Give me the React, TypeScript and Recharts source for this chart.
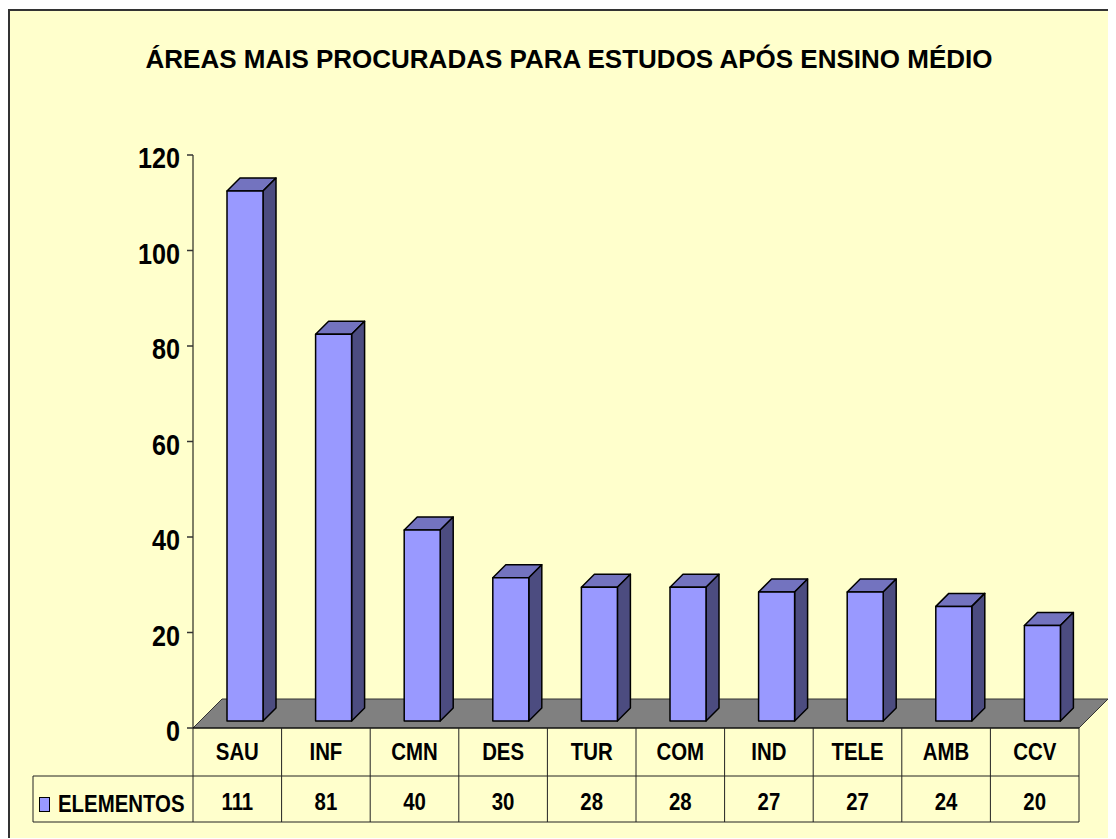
import React from "react";
import { BarChart, Bar, XAxis, YAxis } from "recharts";

const categories = ["SAU", "INF", "CMN", "DES", "TUR", "COM", "IND", "TELE", "AMB", "CCV"];
const elementos = [111, 81, 40, 30, 28, 28, 27, 27, 24, 20];
const yTicks = [0, 20, 40, 60, 80, 100, 120];

const FONT = "'Liberation Sans', Arial, sans-serif";
const W = 1108;
const H = 830;
// plot area (chart coords)
const PL = 185;
const PR = 1071;
const PT = 146;
const PB = 719;
const BW = (PR - PL) / categories.length;
const FLOOR = 29; // floor depth
const DEPTH = 13; // bar depth
const SHIFT_X = 8;
const SHIFT_Y = -7;

const data = categories.map((c, i) => ({ cat: c, value: elementos[i] }));

// narrow bold text (no narrow font installed, so squeeze it)
function NText({ x, y, size, sx = 0.85, anchor = "middle", children }: any) {
  return (
    <text
      transform={`translate(${x},${y}) scale(${sx},1)`}
      textAnchor={anchor}
      fontFamily={FONT}
      fontWeight="bold"
      fontSize={size}
      fill="#000"
    >
      {children}
    </text>
  );
}

function Bar3D(props: any) {
  const { x, y, width, height } = props;
  if (height == null || height <= 0) return null;
  const fx = x + SHIFT_X;
  const fy = y + SHIFT_Y;
  const fb = fy + height;
  const d = DEPTH;
  return (
    <g stroke="#000" strokeWidth={1.5} strokeLinejoin="round">
      <polygon
        points={`${fx},${fy} ${fx + d},${fy - d} ${fx + width + d},${fy - d} ${fx + width},${fy}`}
        fill="#7373BF"
      />
      <polygon
        points={`${fx + width},${fy} ${fx + width + d},${fy - d} ${fx + width + d},${fb - d} ${fx + width},${fb}`}
        fill="#4C4C80"
      />
      <rect x={fx} y={fy} width={width} height={height} fill="#9999FF" />
    </g>
  );
}

function CatTick(props: any) {
  const { x, y, payload, index } = props;
  const left = x - BW / 2;
  const last = index === categories.length - 1;
  return (
    <g>
      <line x1={left} y1={y} x2={left} y2={y + 94} stroke="#222" strokeWidth={1} />
      {last && <line x1={x + BW / 2} y1={y} x2={x + BW / 2} y2={y + 94} stroke="#222" strokeWidth={1} />}
      <NText x={x} y={y + 32} size={24}>
        {payload.value}
      </NText>
      <NText x={x} y={y + 82} size={24}>
        {elementos[index]}
      </NText>
    </g>
  );
}

function ValTick(props: any) {
  const { x, y, payload } = props;
  return (
    <NText x={x} y={y + 13} size={30} sx={0.84} anchor="end">
      {payload.value}
    </NText>
  );
}

export default function App() {
  return (
    <div style={{ position: "relative", top: 1, width: W, height: H, background: "#FFFFCC", fontFamily: FONT }}>
      <div
        style={{
          position: "absolute",
          left: 0,
          top: 0,
          width: W,
          height: H,
          borderLeft: "2px solid #333",
          borderTop: "2px solid #333",
          boxSizing: "border-box",
        }}
      />
      <svg width={W} height={H} style={{ position: "absolute", left: 0, top: 0 }}>
        <text x={561} y={59} textAnchor="middle" fontFamily={FONT} fontWeight="bold" fontSize={26} fill="#000">
          ÁREAS MAIS PROCURADAS PARA ESTUDOS APÓS ENSINO MÉDIO
        </text>
        {/* floor */}
        <polygon
          points={`${PL},${PB} ${PR},${PB} ${PR + FLOOR},${PB - FLOOR} ${PL + FLOOR},${PB - FLOOR}`}
          fill="#808080"
          stroke="#333"
          strokeWidth={1}
        />
        {/* data table frame + legend */}
        <line x1={25} y1={PB + 48} x2={PR} y2={PB + 48} stroke="#222" strokeWidth={1} />
        <line x1={25} y1={PB + 94} x2={PR} y2={PB + 94} stroke="#222" strokeWidth={1} />
        <line x1={25} y1={PB + 48} x2={25} y2={PB + 94} stroke="#222" strokeWidth={1} />
        <rect x={31.5} y={788.5} width={10} height={14} fill="#9999FF" stroke="#000" strokeWidth={1} />
        <NText x={50} y={803} size={24} anchor="start">
          ELEMENTOS
        </NText>
      </svg>
      <div style={{ position: "absolute", left: 0, top: 0 }}>
        <BarChart
          width={W}
          height={H}
          data={data}
          margin={{ top: PT, right: W - PR, bottom: H - PB - 94, left: 0 }}
        >
          <XAxis
            dataKey="cat"
            height={94}
            axisLine={{ stroke: "#000", strokeWidth: 1 }}
            tickLine={false}
            tickSize={0}
            tickMargin={0}
            interval={0}
            tick={(p: any) => <CatTick {...p} />}
          />
          <YAxis
            width={PL}
            domain={[0, 120]}
            ticks={yTicks}
            interval={0}
            axisLine={{ stroke: "#000", strokeWidth: 1 }}
            tickLine={{ stroke: "#333", strokeWidth: 1.5 }}
            tickSize={6}
            tickMargin={7}
            tick={(p: any) => <ValTick {...p} />}
          />
          <Bar dataKey="value" barSize={36} isAnimationActive={false} shape={(p: any) => <Bar3D {...p} />} />
        </BarChart>
      </div>
    </div>
  );
}
